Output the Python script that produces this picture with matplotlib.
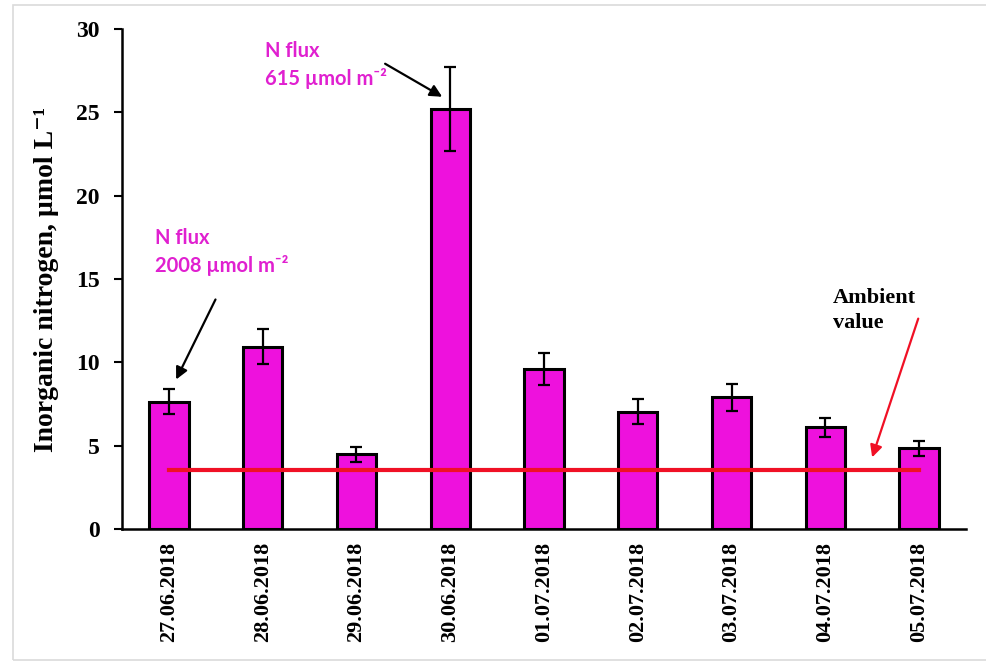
import matplotlib
matplotlib.use('Agg')
import matplotlib.pyplot as plt
from matplotlib.patches import Rectangle

# sampling dates and mean inorganic N (umol/L) with SD
dates = ['27.06.2018', '28.06.2018', '29.06.2018', '30.06.2018', '01.07.2018',
         '02.07.2018', '03.07.2018', '04.07.2018', '05.07.2018']
n_mean = [7.65, 10.95, 4.5, 25.2, 9.6, 7.05, 7.9, 6.1, 4.85]
n_err = [0.76, 1.05, 0.45, 2.5, 0.95, 0.74, 0.81, 0.59, 0.46]
ambient = 3.54

bar_col = '#EE11DD'
txt_col = '#E020D0'
serif = ['Liberation Serif', 'DejaVu Serif']
sans = ['Lato', 'DejaVu Sans']

W, H = 986, 663
fig = plt.figure(figsize=(W / 100, H / 100), dpi=100)
ax = fig.add_axes([122 / W, (H - 529) / H, (966 - 122) / W, 500 / H])

# light frame around the whole figure
fig.patches.append(Rectangle((13 / W, 3 / H), 1.0, (658 - 3) / H, transform=fig.transFigure,
                             fill=False, edgecolor='#DADADA', lw=1.2))

x = list(range(len(dates)))
ax.bar(x, n_mean, width=0.42, color=bar_col, edgecolor='black', linewidth=2.2, zorder=2)
ax.errorbar(x, n_mean, yerr=n_err, fmt='none', ecolor='black', elinewidth=1.6,
            capsize=4, capthick=1.6, zorder=3)

# ambient level
ax.plot([x[0], x[-1]], [ambient, ambient], color='#F01025', lw=3, zorder=4)

ax.set_xlim(-0.5, len(dates) - 0.5)
ax.set_ylim(0, 30)
ax.set_yticks([0, 5, 10, 15, 20, 25, 30])
ax.set_xticks(x)
ax.set_xticklabels(dates, rotation=90, family=serif, fontweight='bold', fontsize=16)
for lab in ax.get_yticklabels():
    lab.set_family(serif)
    lab.set_fontweight('bold')
    lab.set_fontsize(17)
ax.tick_params(axis='x', length=0, pad=9)
ax.tick_params(axis='y', length=6, width=1.5, direction='out', pad=10)

for s in ['top', 'right']:
    ax.spines[s].set_visible(False)
ax.spines['left'].set_linewidth(1.8)
ax.spines['bottom'].set_linewidth(1.8)

ax.set_ylabel('Inorganic nitrogen, µmol L⁻¹', family=serif, fontweight='bold',
              fontsize=20, labelpad=12)

# flux annotations
fs = 14.5
ax.text(1.02, 28.7, 'N flux', color=txt_col, family=sans, fontweight='bold',
        fontsize=fs, va='center', ha='left')
ax.text(1.02, 27.05, '615 µmol m⁻²', color=txt_col, family=sans, fontweight='bold',
        fontsize=fs, va='center', ha='left')
ax.annotate('', xy=(2.94, 25.85), xytext=(2.28, 28.0),
            arrowprops=dict(arrowstyle='-|>', color='black', lw=1.6, mutation_scale=18))

ax.text(-0.15, 17.46, 'N flux', color=txt_col, family=sans, fontweight='bold',
        fontsize=fs, va='center', ha='left')
ax.text(-0.15, 15.84, '2008 µmol m⁻²', color=txt_col, family=sans, fontweight='bold',
        fontsize=fs, va='center', ha='left')
ax.annotate('', xy=(0.064, 8.82), xytext=(0.51, 13.92),
            arrowprops=dict(arrowstyle='-|>', color='black', lw=1.6, mutation_scale=18))

ax.text(7.08, 13.86, 'Ambient', family=serif, fontweight='bold', fontsize=16,
        va='center', ha='left')
ax.text(7.08, 12.36, 'value', family=serif, fontweight='bold', fontsize=16,
        va='center', ha='left')
ax.annotate('', xy=(7.49, 4.14), xytext=(8.0, 12.78),
            arrowprops=dict(arrowstyle='-|>', color='#F01025', lw=1.6, mutation_scale=18))

fig.savefig('out.png', dpi=100)
